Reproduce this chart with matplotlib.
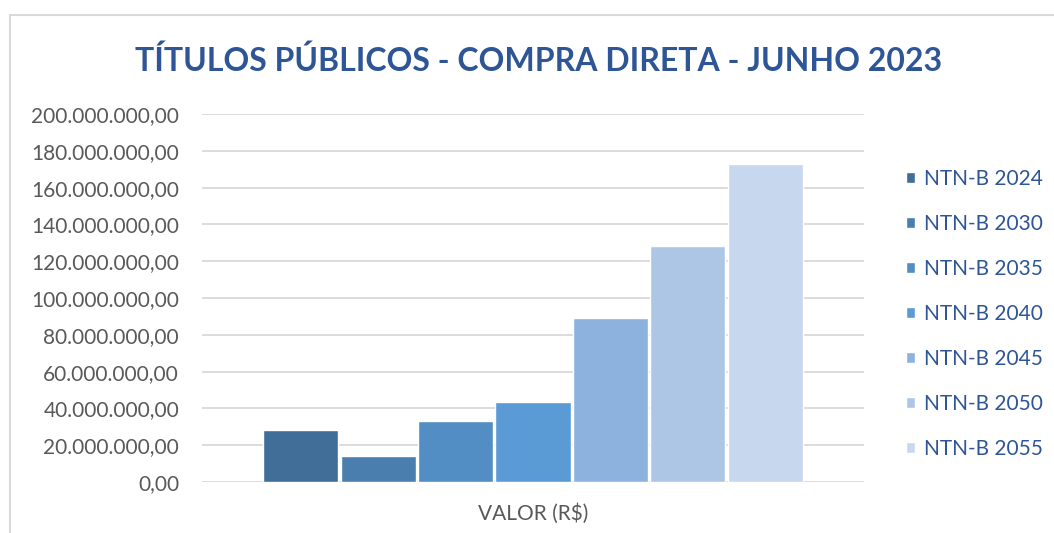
import numpy as np
import matplotlib
matplotlib.use('Agg')
import matplotlib.pyplot as plt
from matplotlib.patches import Rectangle
from matplotlib.ticker import FuncFormatter

# data
series = ['NTN-B 2024', 'NTN-B 2030', 'NTN-B 2035', 'NTN-B 2040',
          'NTN-B 2045', 'NTN-B 2050', 'NTN-B 2055']
valores = [28.1e6, 14.0e6, 33.0e6, 43.6e6, 89.3e6, 128.3e6, 173.0e6]
categoria = 'VALOR (R$)'
cores = ['#406E98', '#4A7EAE', '#528EC3', '#5B9BD5',
         '#8DB2DD', '#ADC6E6', '#C7D8EE']

titulo_cor = '#2E5596'
texto_cor = '#595959'
grade_cor = '#D9D9D9'

plt.rcParams['font.family'] = ['Lato', 'DejaVu Sans']

W, H = 1054, 533
fig = plt.figure(figsize=(W / 100, H / 100), dpi=100)

# plot area in pixels: x 202..864, y 114..482
ax = fig.add_axes([202 / W, 1 - 482 / H, (864 - 202) / W, (482 - 114) / H])

x = np.arange(len(valores))
handles = []
for i, v in enumerate(valores):
    b = ax.bar(x[i], v, width=0.97, color=cores[i], edgecolor='white',
               linewidth=1, label=series[i], zorder=3)
    handles.append(b)

ax.set_ylim(0, 200e6)
ax.set_yticks(np.arange(0, 200e6 + 1, 20e6))
ax.set_xlim(3 - 4.277, 3 + 4.277)


def brl(v, pos):
    s = '{:,.2f}'.format(v)
    return s.replace(',', 'X').replace('.', ',').replace('X', '.')


ax.yaxis.set_major_formatter(FuncFormatter(brl))
ax.set_xticks([3])
ax.set_xticklabels([categoria])

ax.grid(axis='y', color=grade_cor, linewidth=1.3, zorder=0)
for s in ax.spines.values():
    s.set_visible(False)
ax.tick_params(axis='both', length=0, labelsize=15, colors=texto_cor)
ax.tick_params(axis='y', pad=16.5)
ax.tick_params(axis='x', pad=15)

fig.text(539 / W, 1 - 71 / H, 'TÍTULOS PÚBLICOS - COMPRA DIRETA - JUNHO 2023',
         ha='center', va='baseline', fontsize=23, fontweight='bold',
         color=titulo_cor)

leg = fig.legend(handles=handles, labels=series, loc='upper left',
                 bbox_to_anchor=(906 / W, 1 - 169 / H), frameon=False,
                 fontsize=15, handlelength=0.43, handleheight=0.43,
                 handletextpad=0.43, labelspacing=1.2, borderpad=0,
                 borderaxespad=0)
for t in leg.get_texts():
    t.set_color(titulo_cor)

# chart border
fig.patches.append(Rectangle((10 / W, -0.1), 2, 1.1 - 15 / H,
                             transform=fig.transFigure, fill=False,
                             edgecolor=grade_cor, linewidth=1.5))

fig.savefig('out.png', dpi=100)
